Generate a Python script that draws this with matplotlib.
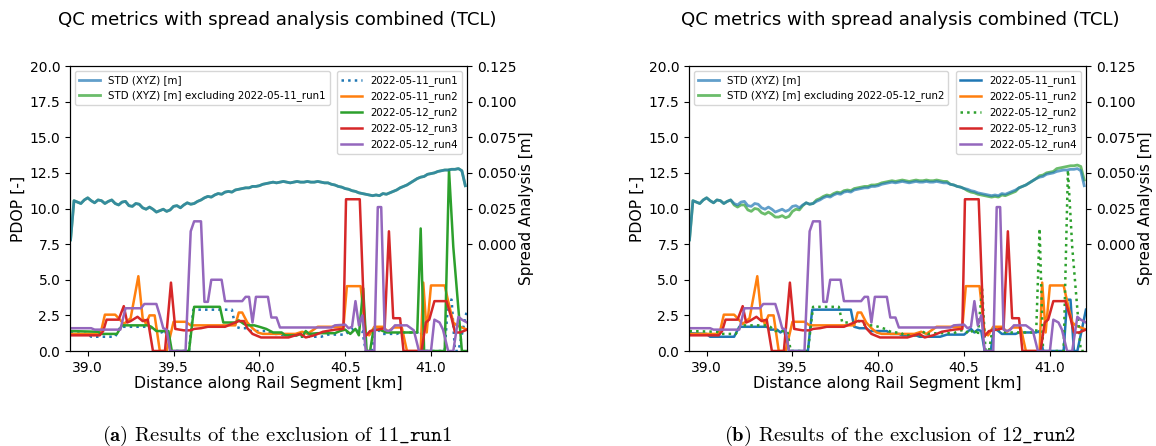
import numpy as np
import matplotlib.pyplot as plt
from matplotlib.ticker import FormatStrFormatter

plt.rcParams['mathtext.fontset'] = 'cm'

# distance grid of the spread (STD) curves [km]
std_km = np.round(np.arange(38.90, 41.201, 0.02), 2)

# STD (XYZ) of all runs [m]
std_all = [0.0030, 0.0305, 0.0295, 0.0285, 0.0310, 0.0325, 0.0305, 0.0290, 0.0310, 0.0305,
           0.0285, 0.0300, 0.0310, 0.0285, 0.0275, 0.0295, 0.0300, 0.0270, 0.0265, 0.0285,
           0.0280, 0.0255, 0.0245, 0.0260, 0.0245, 0.0225, 0.0235, 0.0245, 0.0230, 0.0240,
           0.0265, 0.0270, 0.0255, 0.0275, 0.0290, 0.0280, 0.0285, 0.0300, 0.0310, 0.0325,
           0.0335, 0.0330, 0.0345, 0.0355, 0.0350, 0.0365, 0.0370, 0.0365, 0.0380, 0.0385,
           0.0390, 0.0395, 0.0395, 0.0405, 0.0405, 0.0410, 0.0420, 0.0425, 0.0430, 0.0435,
           0.0430, 0.0435, 0.0440, 0.0435, 0.0430, 0.0435, 0.0440, 0.0435, 0.0435, 0.0440,
           0.0435, 0.0435, 0.0440, 0.0435, 0.0430, 0.0430, 0.0420, 0.0415, 0.0405, 0.0400,
           0.0390, 0.0385, 0.0375, 0.0370, 0.0360, 0.0355, 0.0350, 0.0345, 0.0340, 0.0345,
           0.0340, 0.0355, 0.0350, 0.0360, 0.0370, 0.0380, 0.0395, 0.0405, 0.0415, 0.0430,
           0.0445, 0.0460, 0.0470, 0.0475, 0.0490, 0.0495, 0.0500, 0.0510, 0.0515, 0.0520,
           0.0520, 0.0525, 0.0525, 0.0530, 0.0515, 0.0410]

# STD excluding 2022-05-11_run1 (lies on top of the full curve)
std_excl_11_run1 = list(std_all)

# STD excluding 2022-05-12_run2
std_excl_12_run2 = [0.0030, 0.0305, 0.0295, 0.0285, 0.0310, 0.0325, 0.0305, 0.0290, 0.0310, 0.0305,
                    0.0285, 0.0300, 0.0310, 0.0275, 0.0260, 0.0275, 0.0275, 0.0240, 0.0230, 0.0250,
                    0.0245, 0.0220, 0.0210, 0.0225, 0.0210, 0.0190, 0.0190, 0.0200, 0.0185, 0.0195,
                    0.0230, 0.0245, 0.0240, 0.0270, 0.0290, 0.0280, 0.0285, 0.0310, 0.0320, 0.0335,
                    0.0345, 0.0340, 0.0355, 0.0365, 0.0360, 0.0375, 0.0380, 0.0375, 0.0390, 0.0395,
                    0.0400, 0.0405, 0.0405, 0.0415, 0.0415, 0.0420, 0.0430, 0.0435, 0.0440, 0.0445,
                    0.0440, 0.0445, 0.0450, 0.0445, 0.0440, 0.0445, 0.0450, 0.0445, 0.0445, 0.0450,
                    0.0445, 0.0445, 0.0450, 0.0445, 0.0440, 0.0440, 0.0420, 0.0415, 0.0405, 0.0400,
                    0.0390, 0.0375, 0.0365, 0.0360, 0.0350, 0.0345, 0.0340, 0.0335, 0.0330, 0.0335,
                    0.0330, 0.0345, 0.0340, 0.0350, 0.0360, 0.0370, 0.0395, 0.0405, 0.0415, 0.0430,
                    0.0445, 0.0460, 0.0480, 0.0485, 0.0500, 0.0505, 0.0510, 0.0530, 0.0535, 0.0540,
                    0.0545, 0.0550, 0.0550, 0.0555, 0.0545, 0.0450]

# PDOP per run (distance [km], PDOP [-])
run1_km = [38.90, 39.00, 39.02, 39.16, 39.19, 39.35, 39.37, 39.41, 39.43, 39.45, 39.48, 39.59,
           39.615, 39.84, 39.86, 39.89, 39.93, 39.95, 40.05, 40.07, 40.12, 40.14, 40.22, 40.24,
           40.36, 40.40, 40.50, 40.52, 40.54, 40.56, 40.58, 40.60, 40.62, 40.655, 40.675, 40.70,
           40.72, 40.80, 40.82, 40.92, 40.94, 40.96, 41.08, 41.10, 41.12, 41.14, 41.16, 41.21]
run1_pdop = [1.25, 1.2, 1.0, 1.0, 1.7, 1.7, 1.5, 1.5, 1.3, 1.5, 0.0, 0.0,
             2.9, 2.9, 1.7, 1.6, 1.6, 1.4, 1.4, 1.2, 1.2, 1.1, 1.1, 1.0,
             1.0, 1.15, 1.15, 1.35, 1.55, 1.3, 1.5, 1.4, 0.0, 0.0, 1.6, 1.4,
             1.2, 1.2, 1.3, 1.3, 1.4, 0.0, 0.0, 3.6, 3.6, 0.0, 0.0, 2.9]

run2_km = [38.90, 39.06, 39.08, 39.10, 39.16, 39.18, 39.21, 39.25, 39.295, 39.32, 39.34, 39.36,
           39.39, 39.42, 39.46, 39.50, 39.57, 39.60, 39.86, 39.88, 39.90, 39.93, 39.96, 39.99,
           40.02, 40.21, 40.25, 40.28, 40.34, 40.49, 40.51, 40.59, 40.62, 40.64, 40.67, 40.72,
           40.75, 40.78, 40.83, 40.86, 40.94, 40.955, 40.975, 41.00, 41.08, 41.10, 41.13, 41.15,
           41.21]
run2_pdop = [1.2, 1.2, 1.5, 2.55, 2.55, 2.3, 1.9, 2.3, 5.25, 2.3, 1.9, 2.5,
             2.5, 0.0, 0.0, 2.05, 2.05, 1.8, 1.8, 2.7, 2.7, 2.0, 1.6, 1.3,
             1.2, 1.2, 1.35, 1.2, 1.7, 1.7, 4.55, 4.55, 1.2, 1.1, 1.7, 1.7,
             1.35, 1.65, 1.65, 0.0, 0.0, 4.8, 1.3, 4.6, 4.6, 3.5, 2.0, 1.8,
             1.5]

run12_2_km = [38.90, 39.06, 39.08, 39.17, 39.20, 39.35, 39.37, 39.40, 39.47, 39.49, 39.59, 39.62,
              39.77, 39.79, 39.86, 39.88, 39.91, 39.93, 39.97, 40.00, 40.04, 40.08, 40.13, 40.15,
              40.22, 40.24, 40.25, 40.27, 40.29, 40.34, 40.44, 40.47, 40.50, 40.53, 40.56, 40.58,
              40.605, 40.625, 40.645, 40.665, 40.70, 40.74, 40.92, 40.94, 40.96, 41.08, 41.105, 41.13,
              41.18, 41.21]
run12_2_pdop = [1.4, 1.35, 1.2, 1.2, 1.8, 1.8, 1.7, 1.4, 1.4, 0.0, 0.0, 3.1,
                3.1, 2.0, 2.0, 2.15, 1.9, 1.8, 1.8, 1.7, 1.55, 1.3, 1.3, 1.1,
                1.1, 1.2, 1.0, 1.4, 1.2, 1.25, 1.25, 1.4, 1.5, 1.2, 1.55, 1.1,
                4.4, 0.0, 0.0, 1.5, 1.5, 1.3, 1.3, 8.6, 0.0, 0.0, 12.7, 7.3,
                0.0, 0.0]

run3_km = [38.90, 39.07, 39.09, 39.11, 39.18, 39.21, 39.23, 39.25, 39.29, 39.32, 39.35, 39.38,
           39.45, 39.485, 39.51, 39.56, 39.60, 39.62, 39.66, 39.70, 39.80, 39.84, 39.88, 39.91,
           39.93, 39.96, 40.01, 40.17, 40.21, 40.24, 40.27, 40.32, 40.37, 40.44, 40.49, 40.505,
           40.585, 40.615, 40.645, 40.69, 40.73, 40.755, 40.78, 40.82, 40.84, 40.945, 40.97, 40.99,
           41.02, 41.09, 41.12, 41.14, 41.17, 41.21]
run3_pdop = [1.1, 1.1, 1.4, 2.2, 2.2, 3.15, 2.0, 2.1, 2.4, 2.1, 2.2, 0.0,
             0.0, 4.8, 1.55, 1.45, 1.45, 1.55, 1.6, 1.7, 1.7, 1.9, 2.1, 2.1,
             1.6, 1.2, 0.95, 0.95, 1.1, 1.2, 0.95, 1.1, 1.35, 1.5, 1.55, 10.65,
             10.65, 1.0, 1.4, 1.5, 1.6, 8.4, 2.3, 2.3, 0.0, 0.0, 2.0, 2.2,
             3.5, 3.5, 2.3, 1.3, 1.3, 1.5]

run4_km = [38.90, 39.02, 39.04, 39.19, 39.22, 39.31, 39.33, 39.40, 39.42, 39.44, 39.46, 39.48,
           39.57, 39.60, 39.62, 39.66, 39.68, 39.70, 39.72, 39.78, 39.80, 39.90, 39.92, 39.94,
           39.96, 39.98, 40.05, 40.07, 40.10, 40.12, 40.42, 40.44, 40.50, 40.52, 40.54, 40.56,
           40.58, 40.60, 40.62, 40.67, 40.69, 40.71, 40.73, 40.75, 40.77, 40.79, 40.86, 40.90,
           40.93, 41.00, 41.02, 41.05, 41.07, 41.10, 41.13, 41.16, 41.18, 41.21]
run4_pdop = [1.6, 1.6, 1.5, 1.5, 3.0, 3.0, 3.3, 3.3, 2.5, 1.6, 1.5, 0.0,
             0.0, 8.4, 9.1, 9.1, 3.45, 3.45, 5.0, 5.0, 3.5, 3.5, 3.8, 3.8,
             2.0, 3.8, 3.8, 2.35, 2.35, 1.65, 1.65, 1.8, 1.85, 1.6, 1.7, 3.5,
             1.8, 2.5, 0.0, 0.0, 10.1, 10.1, 1.5, 1.4, 1.5, 1.8, 1.8, 1.45,
             0.0, 0.0, 2.2, 2.0, 1.5, 0.0, 0.0, 2.4, 2.2, 2.0]

run_names = ['2022-05-11_run1', '2022-05-11_run2', '2022-05-12_run2', '2022-05-12_run3', '2022-05-12_run4']
run_colors = ['tab:blue', 'tab:orange', 'tab:green', 'tab:red', 'tab:purple']
runs = [(run1_km, run1_pdop), (run2_km, run2_pdop), (run12_2_km, run12_2_pdop),
        (run3_km, run3_pdop), (run4_km, run4_pdop)]

pdop_ticks = [0, 2.5, 5, 7.5, 10, 12.5, 15, 17.5, 20]
spread_ticks = [0.0, 0.025, 0.05, 0.075, 0.1, 0.125]
km_ticks = [39.0, 39.5, 40.0, 40.5, 41.0]

panels = [('2022-05-11_run1', std_excl_11_run1, 0, r'$\mathbf{(a)}$ Results of the exclusion of $\mathtt{11\_run1}$'),
          ('2022-05-12_run2', std_excl_12_run2, 2, r'$\mathbf{(b)}$ Results of the exclusion of $\mathtt{12\_run2}$')]


fig = plt.figure(figsize=(11.56, 4.46), dpi=100)

lefts = [0.0606, 0.596]
title_x = [0.2396, 0.7785]

for i, (excl, std_excl, dotted, caption) in enumerate(panels):
    ax = fig.add_axes([lefts[i], 0.213, 0.3434, 0.639])
    ax2 = ax.twinx()

    # PDOP of each run
    for k, (km, pdop) in enumerate(runs):
        ls = ':' if k == dotted else '-'
        ax.plot(km, pdop, ls, color=run_colors[k], lw=1.8, label=run_names[k])

    ax.set_ylim(0, 20)
    ax.set_yticks(pdop_ticks)
    ax.set_xlim(38.897, 41.21)
    ax.set_xticks(km_ticks)
    ax.xaxis.set_major_formatter(FormatStrFormatter('%.1f'))
    ax.yaxis.set_major_formatter(FormatStrFormatter('%.1f'))
    ax.tick_params(labelsize=10)
    ax.set_xlabel('Distance along Rail Segment [km]', fontsize=11.3, labelpad=1)
    ax.set_ylabel('PDOP [-]', fontsize=11.3, labelpad=3)

    # spread analysis
    ax2.plot(std_km, std_excl, color='tab:green', lw=2, alpha=0.7,
             label='STD (XYZ) [m] excluding ' + excl)
    ax2.plot(std_km, std_all, color='tab:blue', lw=2, alpha=0.7, label='STD (XYZ) [m]')
    ax2.set_ylim(-0.075, 0.125)
    ax2.set_yticks(spread_ticks)
    ax2.yaxis.set_major_formatter(FormatStrFormatter('%.3f'))
    ax2.tick_params(labelsize=10)
    ax2.set_ylabel('Spread Analysis [m]', fontsize=11, labelpad=2)

    h2, l2 = ax2.get_legend_handles_labels()
    leg_std = ax2.legend(h2[::-1], l2[::-1], loc='upper left', fontsize=7.4)
    h1, l1 = ax.get_legend_handles_labels()
    ax2.add_artist(leg_std)
    ax2.legend(h1, l1, loc='upper right', fontsize=7.4)

    fig.text(title_x[i], 0.955, 'QC metrics with spread analysis combined (TCL)',
             ha='center', va='center', fontsize=13.1)
    fig.text(title_x[i], 0.022, caption, ha='center', va='center', fontsize=14.8, family='cmr10')

fig.savefig('out.png', dpi=100)
